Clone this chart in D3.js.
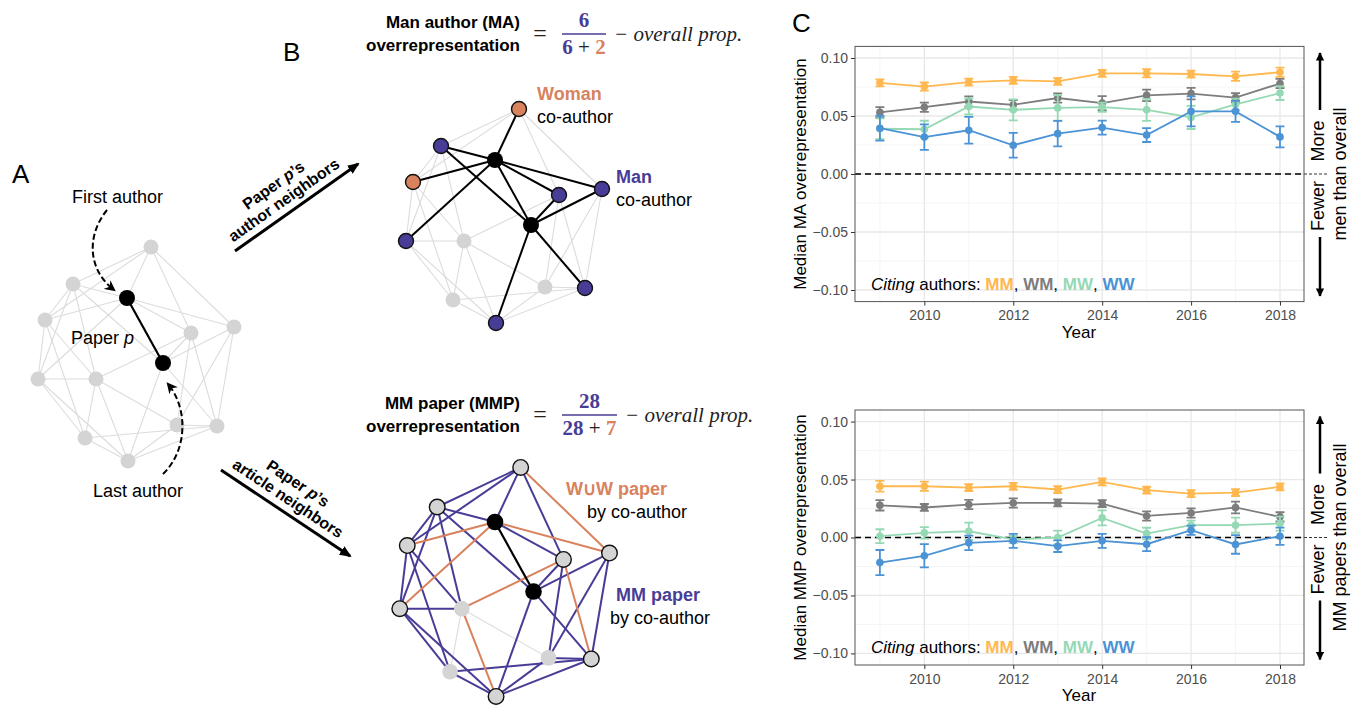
<!DOCTYPE html>
<html>
<head>
<meta charset="utf-8">
<script src="https://cdn.jsdelivr.net/npm/d3@7"></script>
<style>
  body { margin: 0; background: #fff; }
</style>
</head>
<body>
<svg id="fig" width="1361" height="705"></svg>
<script>
// ---- chart data (panel C) ----
const years = [2009, 2010, 2011, 2012, 2013, 2014, 2015, 2016, 2017, 2018];
const groups = ["MM", "WM", "MW", "WW"];

const maMM = [0.0786, 0.0754, 0.0792, 0.0807, 0.0798, 0.0868, 0.0868, 0.0862, 0.0842, 0.0877];
const maMMse = [0.003, 0.0035, 0.003, 0.003, 0.003, 0.003, 0.0035, 0.003, 0.004, 0.004];
const maWM = [0.0532, 0.0576, 0.0625, 0.0596, 0.0655, 0.0611, 0.0678, 0.0693, 0.0658, 0.078];
const maWMse = [0.0045, 0.004, 0.0045, 0.004, 0.004, 0.006, 0.005, 0.005, 0.004, 0.004];
const maMW = [0.039, 0.0386, 0.0582, 0.0553, 0.057, 0.0576, 0.0553, 0.0488, 0.06, 0.0698];
const maMWse = [0.009, 0.0073, 0.0069, 0.009, 0.011, 0.004, 0.0095, 0.01, 0.005, 0.006];
const maWW = [0.0395, 0.0318, 0.0377, 0.0248, 0.0348, 0.040, 0.0336, 0.054, 0.054, 0.032];
const maWWse = [0.0107, 0.011, 0.0115, 0.0107, 0.011, 0.006, 0.006, 0.013, 0.009, 0.009];

const mmpMM = [0.0442, 0.0442, 0.0431, 0.0442, 0.0414, 0.048, 0.0408, 0.0379, 0.0388, 0.0436];
const mmpMMse = [0.0047, 0.004, 0.003, 0.003, 0.003, 0.003, 0.003, 0.003, 0.003, 0.003];
const mmpWM = [0.0278, 0.0259, 0.0284, 0.0298, 0.0298, 0.0293, 0.0186, 0.0212, 0.0259, 0.0178];
const mmpWMse = [0.0045, 0.003, 0.004, 0.004, 0.003, 0.003, 0.004, 0.004, 0.005, 0.004];
const mmpMW = [0.0011, 0.004, 0.0054, -0.0017, 0.0, 0.0169, 0.0034, 0.0106, 0.0106, 0.012];
const mmpMWse = [0.006, 0.005, 0.0075, 0.003, 0.006, 0.0065, 0.005, 0.004, 0.0065, 0.006];
const mmpWW = [-0.0216, -0.0158, -0.0046, -0.0029, -0.0075, -0.0029, -0.0058, 0.0063, -0.006, 0.0011];
const mmpWWse = [0.0108, 0.01, 0.0063, 0.006, 0.005, 0.006, 0.006, 0.004, 0.008, 0.0075];

const xTicks = [2010, 2012, 2014, 2016, 2018];
const xMinor = [2009, 2011, 2013, 2015, 2017];
const yTicks = [-0.1, -0.05, 0, 0.05, 0.1];
const yMinor = [-0.075, -0.025, 0.025, 0.075];

const groupColor = { MM: "#ffb84f", WM: "#7d7d7d", MW: "#95d9b4", WW: "#4b93d5" };

// ---- network data (panels A, B): node offsets from the first author ----
// order: F(first), L(last), then 11 other authors
const nodeDX = [0, 36, 24, -54, -82, 107, 64, -89, -31, 50, 90, -42, 1];
const nodeDY = [0, 65, -51, -14, 22, 29, 35, 81, 81, 127, 128, 140, 163];
const nodeGender = [null, null, "W", "M", "W", "M", "M", "M", null, null, "M", null, "M"];
// edges: [a, b, paper type]
const edges = [
  [0, 1, "p"],
  [0, 2, "mm"], [0, 3, "mm"], [0, 4, "ww"], [0, 5, "ww"], [0, 6, "mm"], [0, 7, "ww"],
  [1, 3, "mm"], [1, 5, "mm"], [1, 6, "mm"], [1, 10, "mm"], [1, 12, "mm"],
  [2, 5, "ww"], [6, 8, "ww"], [8, 12, "ww"], [6, 10, "ww"],
  [2, 3, "mm"], [2, 4, "mm"], [2, 6, "mm"], [3, 4, "mm"], [3, 7, "mm"], [3, 8, "mm"],
  [4, 7, "mm"], [4, 8, "mm"], [4, 11, "mm"], [7, 8, "mm"], [7, 11, "mm"], [7, 12, "mm"],
  [11, 12, "mm"], [5, 9, "mm"], [5, 10, "mm"], [6, 9, "mm"], [9, 10, "mm"], [11, 10, "mm"],
  [12, 9, "mm"], [12, 10, "mm"],
  [8, 9, "none"], [8, 11, "none"]
];

const purple = "#483d96", orange = "#d8825e";
const sans = '"Liberation Sans", Arial, Helvetica, sans-serif';
const serif = '"Liberation Serif", "DejaVu Serif", serif';

const svg = d3.select("#fig").attr("font-family", sans);
const defs = svg.append("defs");
defs.append("marker").attr("id", "headBig").attr("viewBox", "0 0 12 10")
  .attr("refX", 10).attr("refY", 5).attr("markerWidth", 12).attr("markerHeight", 10)
  .attr("markerUnits", "userSpaceOnUse").attr("orient", "auto")
  .append("path").attr("d", "M0,0 L12,5 L0,10 z").attr("fill", "#000");
defs.append("marker").attr("id", "headDash").attr("viewBox", "0 0 10 10")
  .attr("refX", 8).attr("refY", 5).attr("markerWidth", 11).attr("markerHeight", 11)
  .attr("markerUnits", "userSpaceOnUse").attr("orient", "auto")
  .append("path").attr("d", "M0,0 L10,5 L0,10 L3,5 z").attr("fill", "#000");
defs.append("marker").attr("id", "headV").attr("viewBox", "0 0 10 12")
  .attr("refX", 9).attr("refY", 5).attr("markerWidth", 12).attr("markerHeight", 10)
  .attr("markerUnits", "userSpaceOnUse").attr("orient", "auto")
  .append("path").attr("d", "M0,0 L10,5 L0,10 z").attr("fill", "#000");

// ---------- network drawing ----------
function drawNetwork(ox, oy, k, mode) {
  const xs = d3.scaleLinear().domain([0, 100]).range([ox, ox + 100 * k]);
  const ys = d3.scaleLinear().domain([0, 100]).range([oy, oy + 100 * k]);
  const g = svg.append("g");
  const isNb = i => edges.some(e => (e[0] <= 1 && e[1] === i) || (e[1] <= 1 && e[0] === i));

  function edgeStyle(e) {
    const author = e[0] <= 1 || e[1] <= 1;
    if (mode === "A") return e[2] === "p" ? ["#000", 2.2, 3] : ["#dcdcdc", 1.1, 0];
    if (mode === "author") return author ? ["#000", 2, 3] : ["#dcdcdc", 1.1, 0];
    if (e[2] === "p") return ["#000", 2.2, 3];
    if (e[2] === "mm") return [purple, 2, 1];
    if (e[2] === "ww") return [orange, 2, 2];
    return ["#dcdcdc", 1.1, 0];
  }
  const sorted = edges.slice().sort((a, b) => edgeStyle(a)[2] - edgeStyle(b)[2]);
  g.selectAll("line").data(sorted).join("line")
    .attr("x1", e => xs(nodeDX[e[0]])).attr("y1", e => ys(nodeDY[e[0]]))
    .attr("x2", e => xs(nodeDX[e[1]])).attr("y2", e => ys(nodeDY[e[1]]))
    .attr("stroke", e => edgeStyle(e)[0]).attr("stroke-width", e => edgeStyle(e)[1]);

  const idx = d3.range(nodeDX.length).reverse();
  g.selectAll("circle").data(idx).join("circle")
    .attr("cx", i => xs(nodeDX[i])).attr("cy", i => ys(nodeDY[i]))
    .attr("r", i => (i <= 1 ? 8 : 7.5) * (k > 1 ? 1.04 : 1))
    .attr("fill", i => {
      if (i <= 1) return "#000";
      if (mode === "author" && nodeGender[i]) return nodeGender[i] === "M" ? purple : orange;
      return "#d4d4d4";
    })
    .attr("stroke", i => (mode !== "A" && i > 1 && isNb(i)) ? "#111" : "none")
    .attr("stroke-width", 1.4);
}

drawNetwork(127, 298, 1, "A");
drawNetwork(495, 160, 1, "author");
drawNetwork(495, 522, 1.07, "article");

// ---------- panel A texts ----------
svg.append("text").attr("x", 12).attr("y", 183).attr("font-size", 26).text("A");
svg.append("text").attr("x", 72).attr("y", 203).attr("font-size", 18).text("First author");
svg.append("text").attr("x", 93).attr("y", 497).attr("font-size", 18).text("Last author");
const pp = svg.append("text").attr("x", 71).attr("y", 344).attr("font-size", 18);
pp.append("tspan").text("Paper ");
pp.append("tspan").attr("font-style", "italic").text("p");
svg.append("path").attr("d", "M107,210 C86,236 88,270 114,290")
  .attr("fill", "none").attr("stroke", "#000").attr("stroke-width", 2)
  .attr("stroke-dasharray", "6,3").attr("marker-end", "url(#headDash)");
svg.append("path").attr("d", "M163,474 C188,450 188,408 168,384")
  .attr("fill", "none").attr("stroke", "#000").attr("stroke-width", 2)
  .attr("stroke-dasharray", "6,3").attr("marker-end", "url(#headDash)");

// ---------- panel B texts ----------
svg.append("text").attr("x", 283).attr("y", 61).attr("font-size", 26).text("B");

function formula(yb, l1, l2, num, den1, den2) {
  const g = svg.append("g");
  g.append("text").attr("x", 520).attr("y", yb - 12).attr("text-anchor", "end")
    .attr("font-size", 17).attr("font-weight", "bold").text(l1);
  g.append("text").attr("x", 520).attr("y", yb + 11).attr("text-anchor", "end")
    .attr("font-size", 17).attr("font-weight", "bold").text(l2);
  g.append("text").attr("x", 540).attr("y", yb + 1).attr("text-anchor", "middle")
    .attr("font-family", serif).attr("font-size", 24).attr("fill", "#222").text("=");
  const w = num.length > 1 ? 55 : 44;
  const cx = 562 + w / 2;
  g.append("text").attr("x", cx).attr("y", yb - 13).attr("text-anchor", "middle")
    .attr("font-family", serif).attr("font-weight", "bold").attr("font-size", 21)
    .attr("fill", purple).text(num);
  g.append("line").attr("x1", 562).attr("x2", 562 + w).attr("y1", yb - 6).attr("y2", yb - 6)
    .attr("stroke", purple).attr("stroke-width", 1.3);
  const d = g.append("text").attr("x", cx).attr("y", yb + 14).attr("text-anchor", "middle")
    .attr("font-family", serif).attr("font-weight", "bold").attr("font-size", 21);
  d.append("tspan").attr("fill", purple).text(den1);
  d.append("tspan").attr("fill", "#222").attr("font-weight", "normal").text(" + ");
  d.append("tspan").attr("fill", orange).text(den2);
  g.append("text").attr("x", 562 + w + 8).attr("y", yb + 1)
    .attr("font-family", serif).attr("font-style", "italic").attr("font-size", 21)
    .attr("fill", "#222").text("\u2212 overall prop.");
}
formula(40, "Man author (MA)", "overrepresentation", "6", "6", "2");
formula(421, "MM paper (MMP)", "overrepresentation", "28", "28", "7");

function label2(x1, y1, t1, c1, x2, t2) {
  svg.append("text").attr("x", x1).attr("y", y1).attr("font-size", 18)
    .attr("font-weight", "bold").attr("fill", c1).text(t1);
  svg.append("text").attr("x", x2).attr("y", y1 + 23).attr("font-size", 18).text(t2);
}
label2(537, 100, "Woman", orange, 537, "co-author");
label2(616, 183, "Man", purple, 616, "co-author");
label2(566, 495, "W\u222AW paper", orange, 587, "by co-author");
label2(616, 601, "MM paper", purple, 610, "by co-author");

function bigArrow(x1, y1, x2, y2, t1, t2) {
  svg.append("line").attr("x1", x1).attr("y1", y1).attr("x2", x2).attr("y2", y2)
    .attr("stroke", "#000").attr("stroke-width", 3).attr("marker-end", "url(#headBig)");
  const ang = Math.atan2(y2 - y1, x2 - x1) * 180 / Math.PI;
  const g = svg.append("g")
    .attr("transform", `translate(${(x1 + x2) / 2},${(y1 + y2) / 2}) rotate(${ang})`);
  const a = g.append("text").attr("x", -6).attr("y", -26).attr("text-anchor", "middle")
    .attr("font-size", 16).attr("font-weight", "bold");
  a.append("tspan").text("Paper ");
  a.append("tspan").attr("font-style", "italic").text("p");
  a.append("tspan").text("\u2019s");
  g.append("text").attr("x", -6).attr("y", -8).attr("text-anchor", "middle")
    .attr("font-size", 16).attr("font-weight", "bold").text(t2);
}
bigArrow(235, 251, 358, 164, "Paper p's", "author neighbors");
bigArrow(221, 470, 350, 556, "Paper p's", "article neighbors");

// ---------- panel C ----------
svg.append("text").attr("x", 792).attr("y", 32).attr("font-size", 26).text("C");

const x = d3.scaleLinear().domain([2008.44, 2018.54]).range([855, 1304]);

function drawPanel(p) {
  const y = d3.scaleLinear().domain([-0.11, 0.11]).range([p.bottom, p.top]);
  const g = svg.append("g");
  // grid
  g.selectAll(".gx2").data(xMinor).join("line")
    .attr("x1", d => x(d)).attr("x2", d => x(d)).attr("y1", p.top).attr("y2", p.bottom)
    .attr("stroke", "#f3f3f3").attr("stroke-width", 0.8);
  g.selectAll(".gy2").data(yMinor).join("line")
    .attr("x1", x.range()[0]).attr("x2", x.range()[1]).attr("y1", d => y(d)).attr("y2", d => y(d))
    .attr("stroke", "#f3f3f3").attr("stroke-width", 0.8);
  g.selectAll(".gx").data(xTicks).join("line")
    .attr("x1", d => x(d)).attr("x2", d => x(d)).attr("y1", p.top).attr("y2", p.bottom)
    .attr("stroke", "#e8e8e8").attr("stroke-width", 1.3);
  g.selectAll(".gy").data(yTicks).join("line")
    .attr("x1", x.range()[0]).attr("x2", x.range()[1]).attr("y1", d => y(d)).attr("y2", d => y(d))
    .attr("stroke", "#e8e8e8").attr("stroke-width", 1.3);

  // zero reference
  g.append("line").attr("x1", x.range()[0]).attr("x2", x.range()[1])
    .attr("y1", y(0)).attr("y2", y(0)).attr("stroke", "#000")
    .attr("stroke-width", 1.3).attr("stroke-dasharray", "6,4");
  g.append("line").attr("x1", x.range()[1]).attr("x2", 1327)
    .attr("y1", y(0)).attr("y2", y(0)).attr("stroke", "#000")
    .attr("stroke-width", 0.8).attr("stroke-dasharray", "3,2");

  // series
  const line = d3.line().x(d => x(d.year)).y(d => y(d.v));
  p.series.forEach(s => {
    const pts = years.map((yr, i) => ({ year: yr, v: s.v[i], se: s.se[i] }));
    const col = groupColor[s.key];
    const sg = g.append("g");
    sg.append("path").datum(pts).attr("d", line).attr("fill", "none")
      .attr("stroke", col).attr("stroke-width", 1.8);
    sg.selectAll(".eb").data(pts).join("path")
      .attr("d", d => {
        const cx = x(d.year), y1 = y(d.v + d.se), y2 = y(d.v - d.se);
        return `M${cx - 4.5},${y1}H${cx + 4.5}M${cx},${y1}V${y2}M${cx - 4.5},${y2}H${cx + 4.5}`;
      })
      .attr("fill", "none").attr("stroke", col).attr("stroke-width", 1.8);
    sg.selectAll("circle").data(pts).join("circle")
      .attr("cx", d => x(d.year)).attr("cy", d => y(d.v)).attr("r", 3.8).attr("fill", col);
  });

  // border
  g.append("rect").attr("x", x.range()[0]).attr("y", p.top)
    .attr("width", x.range()[1] - x.range()[0]).attr("height", p.bottom - p.top)
    .attr("fill", "none").attr("stroke", "#555").attr("stroke-width", 1);

  // axes
  const ya = g.append("g").attr("transform", `translate(${x.range()[0]},0)`)
    .call(d3.axisLeft(y).tickValues(yTicks).tickSize(4).tickFormat(d3.format(".2f")));
  const xa = g.append("g").attr("transform", `translate(0,${p.bottom})`)
    .call(d3.axisBottom(x).tickValues(xTicks).tickSize(4).tickFormat(d3.format("d")));
  [ya, xa].forEach(a => {
    a.attr("font-family", sans);
    a.select(".domain").remove();
    a.selectAll(".tick line").attr("stroke", "#333");
    a.selectAll(".tick text").attr("fill", "#4d4d4d").attr("font-size", 14);
  });
  xa.selectAll(".tick text").attr("dy", "0.85em");

  g.append("text").attr("x", 1079).attr("y", p.bottom + 36).attr("text-anchor", "middle")
    .attr("font-size", 17).text("Year");
  g.append("text").attr("transform", `translate(806,${y(0)}) rotate(-90)`)
    .attr("text-anchor", "middle").attr("font-size", 17).text(p.title);

  // legend
  const lg = g.append("text").attr("x", 871).attr("y", p.bottom - 12).attr("font-size", 17);
  lg.append("tspan").attr("font-style", "italic").text("Citing");
  lg.append("tspan").text(" authors: ");
  groups.forEach((k, i) => {
    lg.append("tspan").attr("font-weight", "bold").attr("fill", groupColor[k]).text(k);
    if (i < groups.length - 1) lg.append("tspan").text(", ");
  });

  // right-hand annotation
  const z = y(0), ax = 1320;
  g.append("line").attr("x1", ax).attr("x2", ax).attr("y1", z - 64).attr("y2", z - 121)
    .attr("stroke", "#000").attr("stroke-width", 2.5).attr("marker-end", "url(#headV)");
  g.append("line").attr("x1", ax).attr("x2", ax).attr("y1", z + 63).attr("y2", z + 122)
    .attr("stroke", "#000").attr("stroke-width", 2.5).attr("marker-end", "url(#headV)");
  g.append("text").attr("transform", `translate(1324,${z - 33}) rotate(-90)`)
    .attr("text-anchor", "middle").attr("font-size", 18).text("More");
  g.append("text").attr("transform", `translate(1324,${z + 32}) rotate(-90)`)
    .attr("text-anchor", "middle").attr("font-size", 18).text("Fewer");
  g.append("text").attr("transform", `translate(1346,${z}) rotate(-90)`)
    .attr("text-anchor", "middle").attr("font-size", 18).text(p.right);
}

drawPanel({
  top: 46.4, bottom: 301.6, title: "Median MA overrepresentation", right: "men than overall",
  series: [
    { key: "MM", v: maMM, se: maMMse }, { key: "WM", v: maWM, se: maWMse },
    { key: "MW", v: maMW, se: maMWse }, { key: "WW", v: maWW, se: maWWse }
  ]
});
drawPanel({
  top: 410, bottom: 665, title: "Median MMP overrepresentation", right: "MM papers than overall",
  series: [
    { key: "MM", v: mmpMM, se: mmpMMse }, { key: "WM", v: mmpWM, se: mmpWMse },
    { key: "MW", v: mmpMW, se: mmpMWse }, { key: "WW", v: mmpWW, se: mmpWWse }
  ]
});
</script>
</body>
</html>
